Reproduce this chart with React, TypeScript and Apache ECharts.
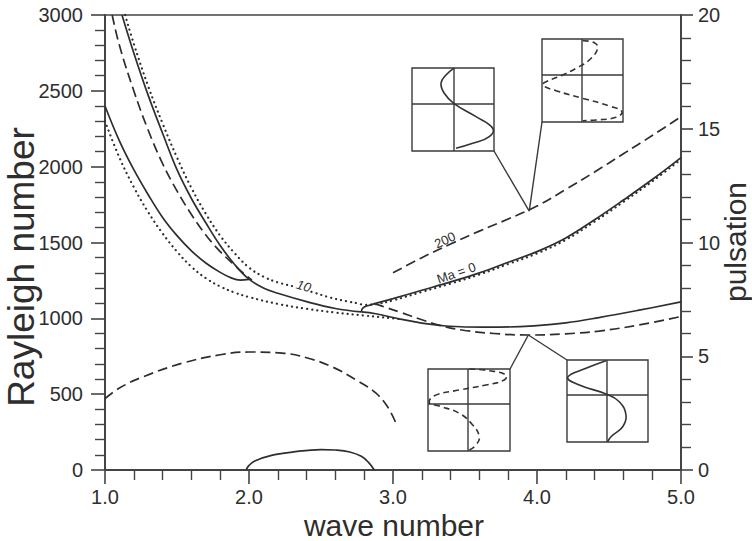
import React, { useEffect, useRef } from "react";
import * as echarts from "echarts";

// ---- axis ranges ----
const xRange = [1, 5];
const leftRange = [0, 3000];
const rightRange = [0, 20];

// ---- curves (wave number, Rayleigh number) ----
// solid, steep curve from top down to the junction near 2.78
const solidSteep: [number, number][] = [
  [1.118, 3000], [1.2, 2750], [1.3, 2470], [1.4, 2220], [1.5, 1980], [1.6, 1790],
  [1.7, 1630], [1.8, 1480], [1.9, 1355], [2.0, 1258], [2.1, 1200], [2.2, 1165],
  [2.4, 1110], [2.6, 1065], [2.78, 1042],
];
// solid curve starting at 2400 on the left, ending on the steep one near 2.0
const solidLeft: [number, number][] = [
  [1.0, 2400], [1.1, 2170], [1.2, 1980], [1.3, 1815], [1.4, 1665], [1.5, 1545],
  [1.6, 1445], [1.7, 1365], [1.8, 1303], [1.88, 1265], [1.94, 1252], [2.0, 1257],
];
// lower solid branch after the junction
const solidLow: [number, number][] = [
  [2.78, 1042], [2.88, 1030], [3.05, 995], [3.2, 968], [3.34, 952], [3.5, 943],
  [3.74, 942], [4.0, 952], [4.2, 970], [4.43, 1005], [4.7, 1052], [5.0, 1108],
];
// Ma = 0 oscillatory branch
const solidMa0: [number, number][] = [
  [2.78, 1042], [2.79, 1068], [2.83, 1085], [3.0, 1130], [3.2, 1185], [3.4, 1240],
  [3.6, 1300], [3.8, 1370], [4.0, 1440], [4.2, 1530], [4.4, 1650], [4.6, 1780],
  [4.8, 1915], [5.0, 2060],
];
// small solid bump at the bottom
const solidBump: [number, number][] = [
  [1.98, 0], [2.0, 30], [2.04, 60], [2.15, 95], [2.3, 118], [2.5, 135], [2.6, 132],
  [2.7, 119], [2.78, 90], [2.83, 50], [2.87, 0],
];
// dashed curve between the two upper solid curves
const dashedUpper: [number, number][] = [
  [1.05, 3000], [1.1, 2800], [1.2, 2500], [1.3, 2240], [1.4, 2020], [1.5, 1840],
  [1.6, 1685], [1.7, 1550], [1.8, 1440], [1.9, 1350], [1.97, 1290], [2.02, 1252],
];
// dashed lower branch after the junction
const dashedLow: [number, number][] = [
  [2.87, 1098], [2.95, 1072], [3.05, 1040], [3.18, 997], [3.34, 950], [3.5, 920],
  [3.7, 900], [3.94, 890], [4.2, 898], [4.43, 916], [4.7, 955], [5.0, 1012],
];
// dashed Ma = 200 oscillatory branch
const dashed200: [number, number][] = [
  [3.0, 1300], [3.2, 1400], [3.4, 1490], [3.6, 1575], [3.8, 1655], [4.0, 1740],
  [4.2, 1850], [4.4, 1965], [4.6, 2085], [4.8, 2205], [5.0, 2330],
];
// dashed arch at the bottom-left
const dashedArch: [number, number][] = [
  [1.0, 470], [1.1, 540], [1.26, 613], [1.54, 705], [1.8, 760], [2.0, 778],
  [2.23, 771], [2.4, 740], [2.58, 679], [2.75, 590], [2.88, 508], [2.96, 420], [3.02, 310],
];
// dotted curve labelled 10 (upper), then running along Ma = 0
const dottedUpper: [number, number][] = [
  [1.14, 3000], [1.2, 2810], [1.3, 2530], [1.4, 2285], [1.5, 2060], [1.6, 1860],
  [1.7, 1690], [1.8, 1545], [1.9, 1430], [2.0, 1335], [2.1, 1275], [2.2, 1237],
  [2.33, 1205], [2.45, 1170], [2.56, 1138], [2.68, 1112], [2.76, 1098], [2.8, 1088],
  [2.9, 1097], [3.0, 1118], [3.2, 1174], [3.4, 1229], [3.6, 1289], [3.8, 1358],
  [4.0, 1428], [4.2, 1518], [4.4, 1638], [4.6, 1768], [4.8, 1903], [5.0, 2048],
];
// dotted curve (lower)
const dottedLower: [number, number][] = [
  [1.0, 2300], [1.1, 2060], [1.2, 1865], [1.3, 1700], [1.4, 1560], [1.5, 1440],
  [1.6, 1340], [1.7, 1265], [1.8, 1210], [1.9, 1170], [2.0, 1140], [2.2, 1095],
  [2.4, 1063], [2.6, 1038], [2.8, 1018], [3.0, 1000], [3.05, 994],
];

// curve labels: [text, x, y, rotation(deg), italic]
const curveLabels: [string, number, number, number, boolean][] = [
  ["10", 2.38, 1213, -17, true],
  ["200", 3.36, 1516, 25, false],
  ["Ma = 0", 3.44, 1299, 19, false],
];

const INK = "#2e2e2e";
const FONT = "'Liberation Sans', Arial, Helvetica, sans-serif";

function lineSeries(data: [number, number][], kind: "solid" | "dashed" | "dotted") {
  const ls: any = { color: INK, width: 1.7 };
  if (kind === "dashed") ls.type = [10, 5];
  if (kind === "dotted") {
    ls.type = [0.1, 5];
    ls.cap = "round";
    ls.width = 2.2;
  }
  return {
    type: "line",
    data,
    xAxisIndex: 0,
    yAxisIndex: 0,
    showSymbol: false,
    symbol: "none",
    smooth: 0.4,
    lineStyle: ls,
    silent: true,
    z: 3,
  };
}

export default function App() {
  const ref = useRef<HTMLDivElement>(null);
  useEffect(() => {
    document.body.style.margin = "0";
    const chart = echarts.init(ref.current!, null, { renderer: "svg" });
    const axisCommon = {
      axisLine: { show: true, lineStyle: { color: "#444", width: 2 } },
      axisTick: { show: true, length: 14, lineStyle: { color: "#444", width: 1.6 } },
      minorTick: { show: true, splitNumber: 5, length: 10, lineStyle: { color: "#444", width: 1.4 } },
      splitLine: { show: false },
    };
    const labelBase = { color: INK, fontSize: 20, fontFamily: FONT };
    chart.setOption({
      animation: false,
      backgroundColor: "#fff",
      grid: { left: 105, right: 71, top: 15, bottom: 71, show: true, borderColor: "#444", borderWidth: 1.6 },
      xAxis: {
        type: "value", min: xRange[0], max: xRange[1], interval: 1, ...axisCommon,
        axisLabel: { ...labelBase, margin: 17, formatter: (v: number) => v.toFixed(1) },
      },
      yAxis: [
        {
          type: "value", position: "left", min: leftRange[0], max: leftRange[1], interval: 500, ...axisCommon,
          axisLabel: { ...labelBase, margin: 22, formatter: (v: number) => String(v) },
        },
        {
          type: "value", position: "right", min: rightRange[0], max: rightRange[1], interval: 5, ...axisCommon,
          axisTick: { ...axisCommon.axisTick, length: 12 },
          axisLabel: { ...labelBase, margin: 17, formatter: (v: number) => String(v) },
        },
      ],
      series: [
        lineSeries(solidSteep, "solid"),
        lineSeries(solidLeft, "solid"),
        lineSeries(solidLow, "solid"),
        lineSeries(solidMa0, "solid"),
        lineSeries(solidBump, "solid"),
        lineSeries(dashedUpper, "dashed"),
        lineSeries(dashedLow, "dashed"),
        lineSeries(dashed200, "dashed"),
        lineSeries(dashedArch, "dashed"),
        lineSeries(dottedUpper, "dotted"),
        lineSeries(dottedLower, "dotted"),
      ],
    });

    const toPx = (x: number, y: number) => chart.convertToPixel({ xAxisIndex: 0, yAxisIndex: 0 }, [x, y]) as number[];
    const g: any[] = [];
    const stroke = { stroke: "#3a3a3a", lineWidth: 1.4, fill: "none" };

    // curve labels
    curveLabels.forEach(([t, x, y, rot, it]) => {
      const [px, py] = toPx(x, y);
      g.push({
        type: "text", x: px, y: py, rotation: (rot * Math.PI) / 180, z: 100,
        style: {
          text: t, fontSize: 13, fontFamily: FONT, fontStyle: it ? "italic" : "normal",
          fill: INK, align: "center", verticalAlign: "middle",
          backgroundColor: it ? "#fff" : undefined,
        },
      });
    });

    // connectors to the curves
    const tipTop = toPx(3.946, 1707);
    const tipLow = toPx(3.94, 890);
    g.push({ type: "line", z: 99, shape: { x1: 494, y1: 151, x2: tipTop[0], y2: tipTop[1] }, style: stroke });
    g.push({ type: "line", z: 99, shape: { x1: 542, y1: 122, x2: tipTop[0], y2: tipTop[1] }, style: stroke });
    g.push({ type: "line", z: 99, shape: { x1: 510, y1: 369, x2: tipLow[0], y2: tipLow[1] }, style: stroke });
    g.push({ type: "line", z: 99, shape: { x1: 567, y1: 360, x2: tipLow[0], y2: tipLow[1] }, style: stroke });

    const inset = (x: number, y: number, w: number, h: number, vx: number, hy: number, pts: number[][], dashed: boolean) => {
      g.push({ type: "rect", z: 100, shape: { x, y, width: w, height: h }, style: { ...stroke, fill: "#fff" } });
      g.push({ type: "line", z: 101, shape: { x1: vx, y1: y, x2: vx, y2: y + h }, style: stroke });
      g.push({ type: "line", z: 101, shape: { x1: x, y1: hy, x2: x + w, y2: hy }, style: stroke });
      g.push({
        type: "polyline", z: 102, shape: { points: pts, smooth: 0.45 },
        style: { stroke: "#333", lineWidth: 1.6, fill: "none", lineDash: dashed ? [6, 4] : null },
      });
    };
    inset(412, 68, 82, 83, 454, 104, [
      [453.7, 68.3], [446, 75], [441, 83.3], [444.3, 93.3], [453.7, 103.3], [476, 116.7],
      [492.7, 128.3], [489.3, 136.7], [472.7, 143.3], [456, 148.3],
    ], false);
    inset(542, 39, 81, 83, 582, 75, [
      [582.7, 40.7], [594.3, 42.7], [597.7, 48.3], [589.3, 60], [576, 68.3], [562.7, 75],
      [546, 81.7], [542.7, 85], [556, 90.7], [582.7, 98.3], [609.3, 106], [622, 111.7],
      [616, 117.3], [596, 120], [582.7, 120.7],
    ], true);
    inset(428, 369, 82, 82, 468, 404, [
      [469.3, 369], [489.3, 370.7], [506, 375], [504.3, 380], [486, 385], [459.3, 390],
      [434.3, 395.7], [429.3, 402.7], [439.3, 406], [459.3, 413.3], [472.7, 425],
      [479.3, 436.7], [476, 445], [469.3, 450],
    ], true);
    inset(567, 360, 81, 82, 607, 395, [
      [606, 360.7], [586, 368.3], [567.7, 377.3], [579.3, 385], [606, 394], [619.3, 401.7],
      [626, 415], [622.7, 426.7], [611, 436.7], [607.7, 441.7],
    ], false);

    // axis titles
    g.push({
      type: "text", x: 21, y: 267, rotation: Math.PI / 2, z: 100,
      style: { text: "Rayleigh number", fontSize: 37, fontFamily: FONT, fill: INK, align: "center", verticalAlign: "middle" },
    });
    g.push({
      type: "text", x: 394, y: 525, z: 100,
      style: { text: "wave number", fontSize: 30, fontFamily: FONT, fill: INK, align: "center", verticalAlign: "middle" },
    });
    g.push({
      type: "text", x: 735, y: 242, rotation: Math.PI / 2, z: 100,
      style: { text: "pulsation", fontSize: 30, fontFamily: FONT, fill: INK, align: "center", verticalAlign: "middle" },
    });

    chart.setOption({ graphic: g });
    return () => chart.dispose();
  }, []);
  return <div ref={ref} style={{ width: 752, height: 541 }} />;
}
